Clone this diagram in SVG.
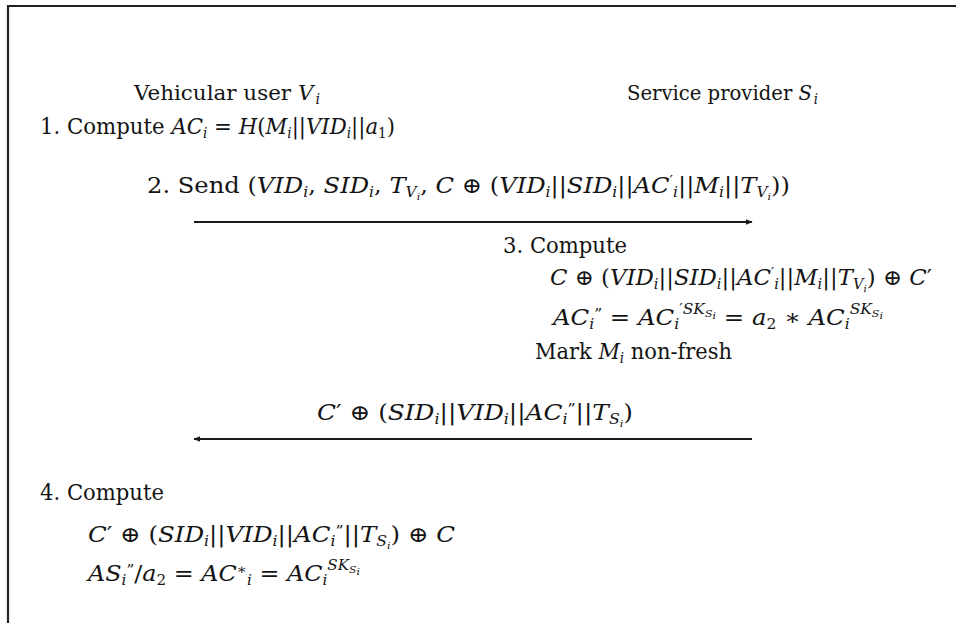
<svg xmlns="http://www.w3.org/2000/svg" width="956" height="623" viewBox="0 0 956 623">
<style>
text{font-family:'DejaVu Serif','Liberation Serif',serif;font-size:22px;fill:#141414}
.hd{font-size:21px}
.m{font-style:italic}
.s{font-size:14px}
.ss{font-size:10px}
.ln{stroke:#1a1a1a;stroke-width:2;fill:none}
.fr{stroke:#222;stroke-width:2.2;fill:none}
</style>
<defs>
<marker id="ah" viewBox="0 0 10 10" refX="9" refY="5" markerWidth="7" markerHeight="7" markerUnits="userSpaceOnUse" orient="auto">
<path d="M0,1 L10,5 L0,9 Z" fill="#1a1a1a"/>
</marker>
</defs>
<rect width="956" height="623" fill="#fff"/>
<path class="fr" d="M8,623 V6 H956"/>

<g id="vehicular-user">
<text class="hd" x="134" y="100" textLength="186" lengthAdjust="spacingAndGlyphs">Vehicular user <tspan class="m">V</tspan><tspan class="s m" dx="2" dy="4">i</tspan></text>
</g>
<g id="service-provider">
<text class="hd" x="627" y="100" textLength="191" lengthAdjust="spacingAndGlyphs">Service provider <tspan class="m">S</tspan><tspan class="s m" dx="2" dy="4">i</tspan></text>
</g>

<g id="step1">
<text x="40" y="134" textLength="355" lengthAdjust="spacingAndGlyphs">1. Compute <tspan class="m">AC</tspan><tspan class="s m" dy="4">i</tspan><tspan dy="-4"> = </tspan><tspan class="m">H</tspan>(<tspan class="m">M</tspan><tspan class="s m" dy="4">i</tspan><tspan dy="-4">||</tspan><tspan class="m">VID</tspan><tspan class="s m" dy="4">i</tspan><tspan dy="-4">||</tspan><tspan class="m">a</tspan><tspan class="s" dy="4">1</tspan><tspan dy="-4">)</tspan></text>
</g>

<g id="step2">
<text x="147" y="193" textLength="643" lengthAdjust="spacingAndGlyphs">2. Send (<tspan class="m">VID</tspan><tspan class="s m" dy="4">i</tspan><tspan dy="-4">, </tspan><tspan class="m">SID</tspan><tspan class="s m" dy="4">i</tspan><tspan dy="-4">, </tspan><tspan class="m">T</tspan><tspan class="s m" dy="4">V</tspan><tspan class="ss m" dy="3">i</tspan><tspan dy="-7">, </tspan><tspan class="m">C</tspan> ⊕ (<tspan class="m">VID</tspan><tspan class="s m" dy="4">i</tspan><tspan dy="-4">||</tspan><tspan class="m">SID</tspan><tspan class="s m" dy="4">i</tspan><tspan dy="-4">||</tspan><tspan class="m">AC</tspan><tspan class="s" dy="-7">′</tspan><tspan class="s m" dy="11">i</tspan><tspan dy="-4">||</tspan><tspan class="m">M</tspan><tspan class="s m" dy="4">i</tspan><tspan dy="-4">||</tspan><tspan class="m">T</tspan><tspan class="s m" dy="4">V</tspan><tspan class="ss m" dy="3">i</tspan><tspan dy="-7">))</tspan></text>
</g>

<g id="step3">
<text x="503" y="253" textLength="124" lengthAdjust="spacingAndGlyphs">3. Compute</text>
<text x="550" y="285" textLength="382" lengthAdjust="spacingAndGlyphs"><tspan class="m">C</tspan> ⊕ (<tspan class="m">VID</tspan><tspan class="s m" dy="4">i</tspan><tspan dy="-4">||</tspan><tspan class="m">SID</tspan><tspan class="s m" dy="4">i</tspan><tspan dy="-4">||</tspan><tspan class="m">AC</tspan><tspan class="s" dy="-7">′</tspan><tspan class="s m" dy="11">i</tspan><tspan dy="-4">||</tspan><tspan class="m">M</tspan><tspan class="s m" dy="4">i</tspan><tspan dy="-4">||</tspan><tspan class="m">T</tspan><tspan class="s m" dy="4">V</tspan><tspan class="ss m" dy="3">i</tspan><tspan dy="-7">) ⊕ </tspan><tspan class="m">C</tspan>′</text>
<text x="553" y="325" textLength="330" lengthAdjust="spacingAndGlyphs"><tspan class="m">AC</tspan><tspan class="s m" dy="4">i</tspan><tspan class="s" dy="-10">”</tspan><tspan dy="6"> = </tspan><tspan class="m">AC</tspan><tspan class="s m" dy="4">i</tspan><tspan class="s" dy="-15">′</tspan><tspan class="s m">SK</tspan><tspan class="ss m" dy="3">S</tspan><tspan class="ss m" dy="2">i</tspan><tspan dy="6"> = </tspan><tspan class="m">a</tspan><tspan class="s" dy="4">2</tspan><tspan dy="-4"> ∗ </tspan><tspan class="m">AC</tspan><tspan class="s m" dy="4">i</tspan><tspan class="s m" dy="-15">SK</tspan><tspan class="ss m" dy="3">S</tspan><tspan class="ss m" dy="2">i</tspan></text>
<text x="535" y="359" textLength="197" lengthAdjust="spacingAndGlyphs">Mark <tspan class="m">M</tspan><tspan class="s m" dy="4">i</tspan><tspan dy="-4"> non-fresh</tspan></text>
</g>

<g id="reply-label">
<text x="317" y="420" textLength="316" lengthAdjust="spacingAndGlyphs"><tspan class="m">C</tspan>′ ⊕ (<tspan class="m">SID</tspan><tspan class="s m" dy="4">i</tspan><tspan dy="-4">||</tspan><tspan class="m">VID</tspan><tspan class="s m" dy="4">i</tspan><tspan dy="-4">||</tspan><tspan class="m">AC</tspan><tspan class="s m" dy="4">i</tspan><tspan class="s" dy="-10">”</tspan><tspan dy="6">||</tspan><tspan class="m">T</tspan><tspan class="s m" dy="4">S</tspan><tspan class="ss m" dy="3">i</tspan><tspan dy="-7">)</tspan></text>
</g>

<g id="step4">
<text x="40" y="500" textLength="124" lengthAdjust="spacingAndGlyphs">4. Compute</text>
<text x="88" y="542" textLength="367" lengthAdjust="spacingAndGlyphs"><tspan class="m">C</tspan>′ ⊕ (<tspan class="m">SID</tspan><tspan class="s m" dy="4">i</tspan><tspan dy="-4">||</tspan><tspan class="m">VID</tspan><tspan class="s m" dy="4">i</tspan><tspan dy="-4">||</tspan><tspan class="m">AC</tspan><tspan class="s m" dy="4">i</tspan><tspan class="s" dy="-10">”</tspan><tspan dy="6">||</tspan><tspan class="m">T</tspan><tspan class="s m" dy="4">S</tspan><tspan class="ss m" dy="3">i</tspan><tspan dy="-7">) ⊕ </tspan><tspan class="m">C</tspan></text>
<text x="88" y="581" textLength="272" lengthAdjust="spacingAndGlyphs"><tspan class="m">AS</tspan><tspan class="s m" dy="4">i</tspan><tspan class="s" dy="-10">”</tspan><tspan dy="6">/</tspan><tspan class="m">a</tspan><tspan class="s" dy="4">2</tspan><tspan dy="-4"> = </tspan><tspan class="m">AC</tspan><tspan class="s" dy="-7">∗</tspan><tspan class="s m" dy="11">i</tspan><tspan dy="-4"> = </tspan><tspan class="m">AC</tspan><tspan class="s m" dy="4">i</tspan><tspan class="s m" dy="-15">SK</tspan><tspan class="ss m" dy="3">S</tspan><tspan class="ss m" dy="2">i</tspan></text>
</g>

<g id="connectors">
<line class="ln" x1="194" y1="222" x2="752" y2="222" marker-end="url(#ah)"/>
<line class="ln" x1="752" y1="439" x2="194" y2="439" marker-end="url(#ah)"/>
</g>
</svg>
